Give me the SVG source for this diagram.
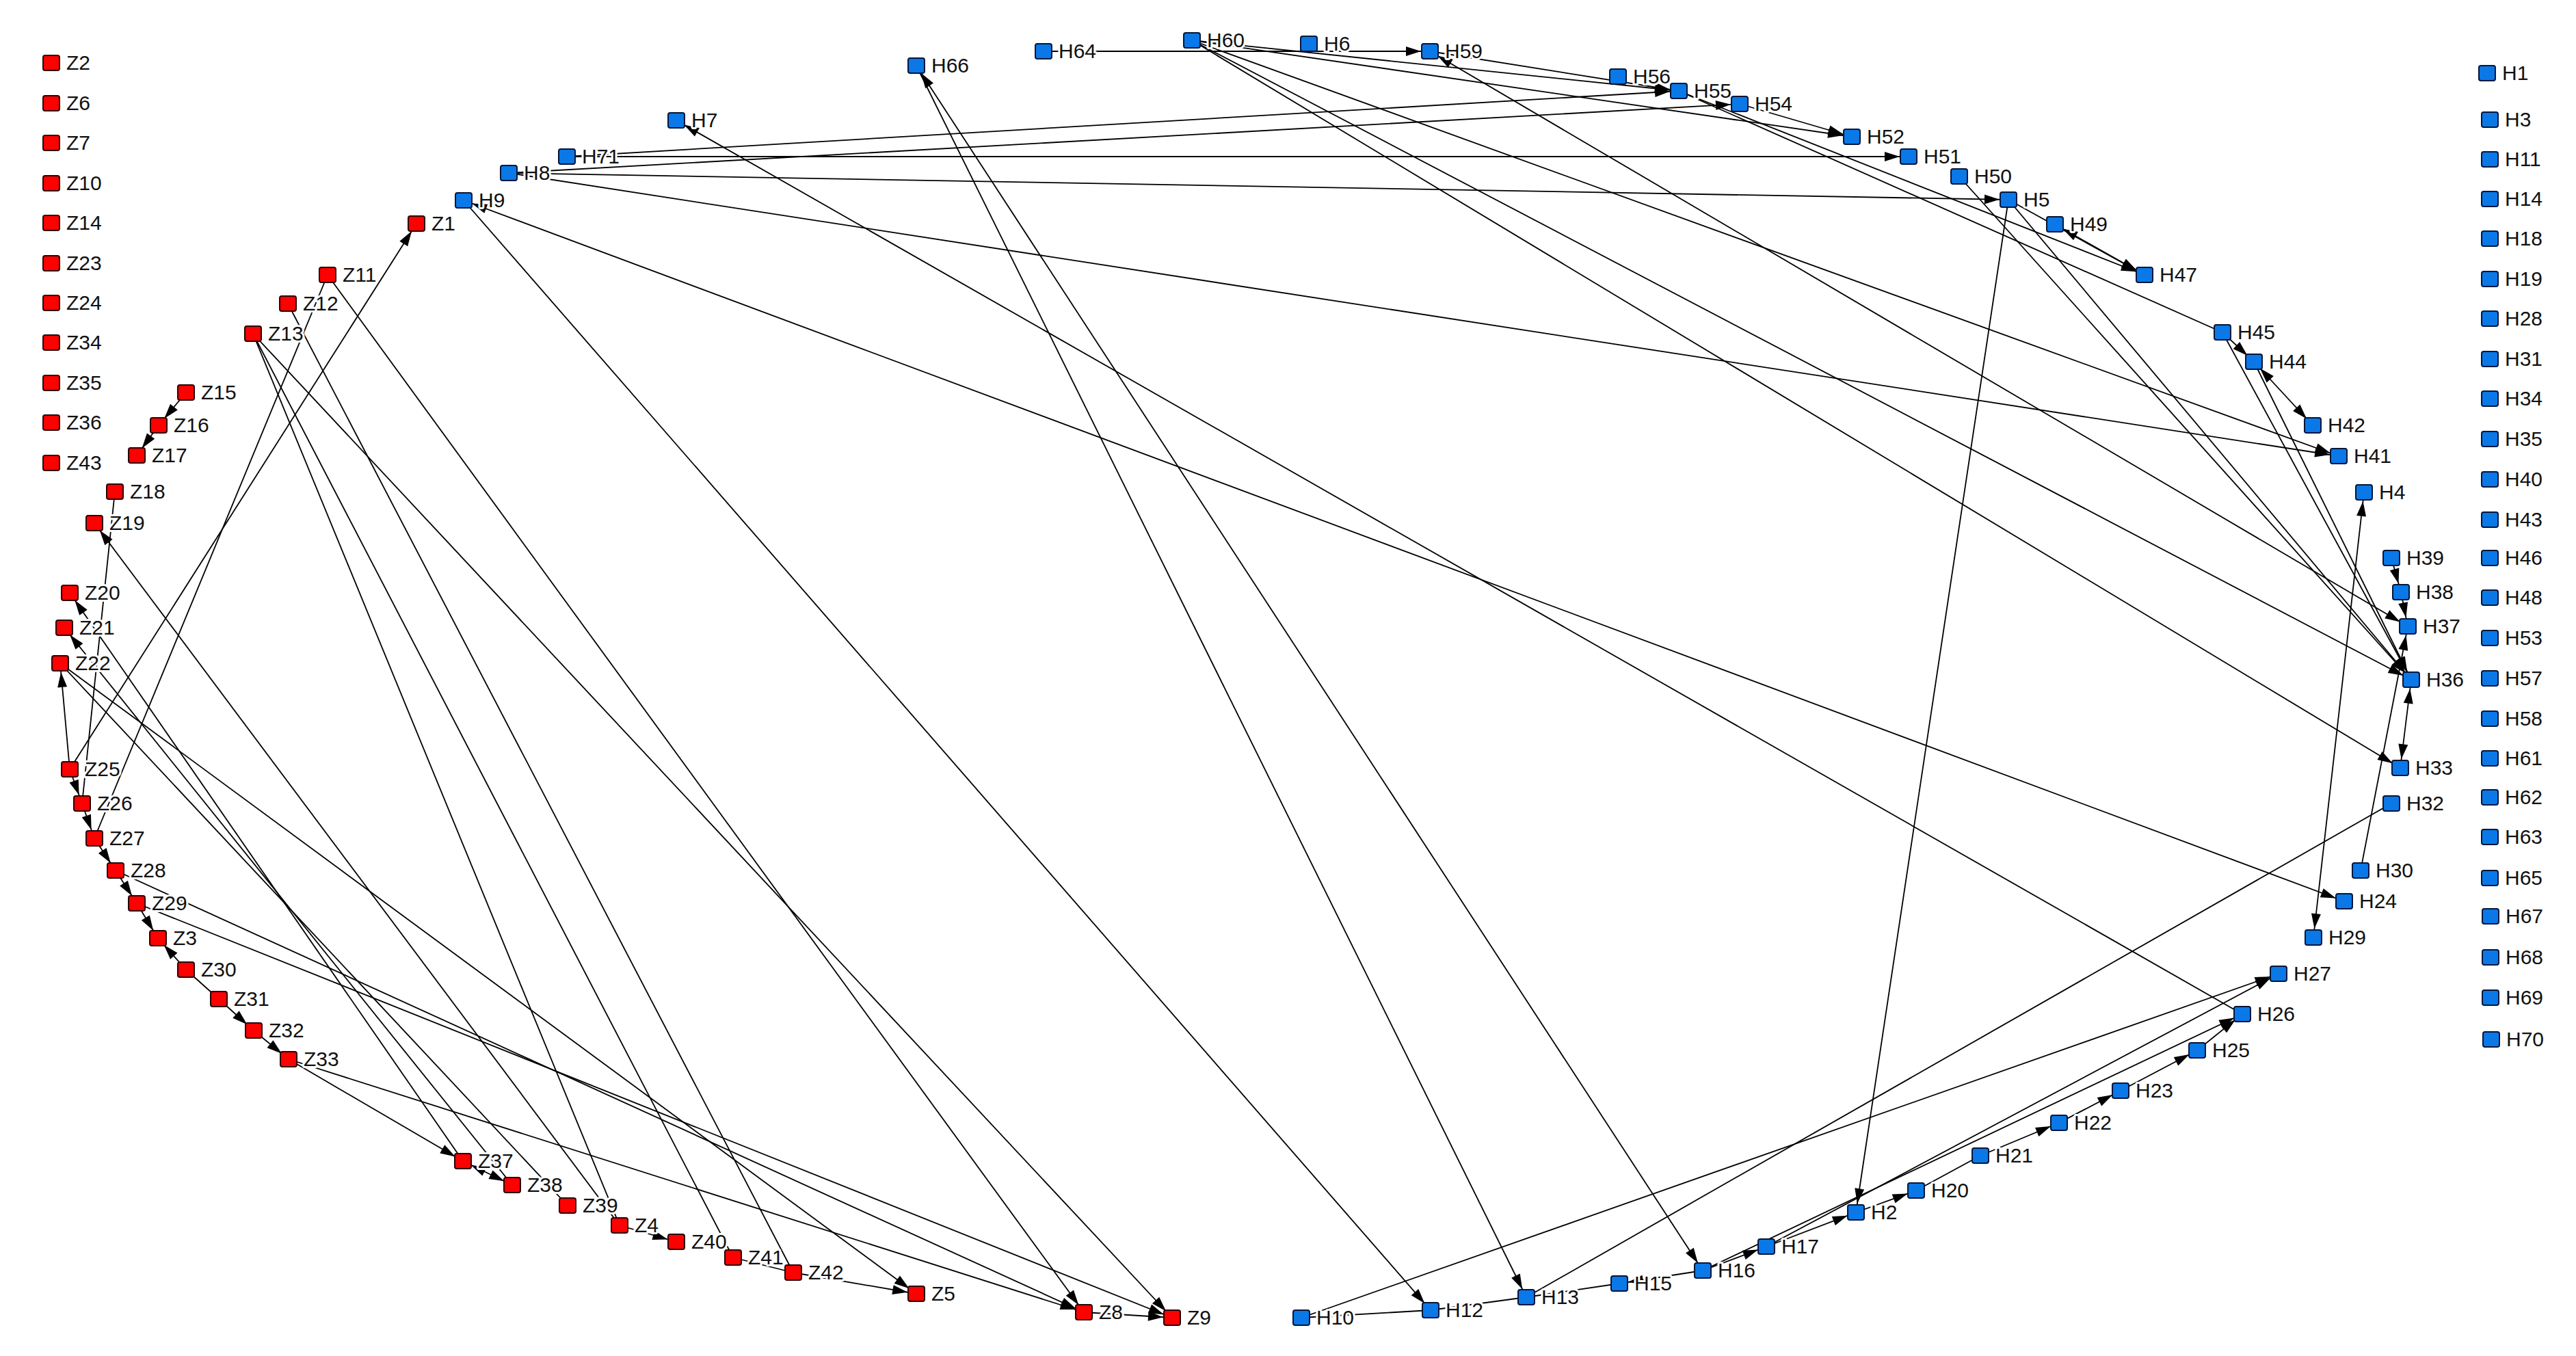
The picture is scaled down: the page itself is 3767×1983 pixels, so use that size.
<svg xmlns="http://www.w3.org/2000/svg" width="3767" height="1983" viewBox="0 0 3767 1983">
<style>
.e{stroke:#000;stroke-width:1.8;fill:none}
.z rect{fill:#ff0000;stroke:#2a0000;stroke-width:2}
.h rect{fill:#0a78e6;stroke:#04163a;stroke-width:2}
text{font-family:"Liberation Sans",Arial,sans-serif;font-size:30px;fill:#111;paint-order:stroke;stroke:#fff;stroke-width:6px;stroke-linejoin:round}
</style>
<defs>
<marker id="a" viewBox="0 0 40 16" markerWidth="40" markerHeight="16" refX="38" refY="8" orient="auto-start-reverse" markerUnits="userSpaceOnUse"><path d="M3,1 L25,8 L3,15 z" fill="#000"/></marker>
</defs>
<rect width="3767" height="1983" fill="#fff"/>
<g id="edges">
<line class="e" x1="1526" y1="75" x2="2091" y2="75" marker-end="url(#a)"/>
<line class="e" x1="1743" y1="59" x2="2455" y2="133" marker-end="url(#a)"/>
<line class="e" x1="2091" y1="75" x2="2455" y2="133" marker-end="url(#a)"/>
<line class="e" x1="1743" y1="59" x2="2708" y2="200" marker-end="url(#a)"/>
<line class="e" x1="2544" y1="152" x2="2708" y2="200" marker-end="url(#a)"/>
<line class="e" x1="829" y1="229" x2="2455" y2="133" marker-end="url(#a)"/>
<line class="e" x1="744" y1="253" x2="2544" y2="152" marker-end="url(#a)"/>
<line class="e" x1="829" y1="229" x2="2791" y2="229" marker-end="url(#a)"/>
<line class="e" x1="744" y1="253" x2="2937" y2="292" marker-end="url(#a)"/>
<line class="e" x1="744" y1="253" x2="3420" y2="667" marker-end="url(#a)"/>
<line class="e" x1="1743" y1="59" x2="3420" y2="667" marker-end="url(#a)"/>
<line class="e" x1="1743" y1="59" x2="3526" y2="994" marker-end="url(#a)"/>
<line class="e" x1="1743" y1="59" x2="3510" y2="1123" marker-end="url(#a)"/>
<line class="e" x1="2091" y1="75" x2="3521" y2="916" marker-start="url(#a)" marker-end="url(#a)"/>
<line class="e" x1="2455" y1="133" x2="3250" y2="486"/>
<line class="e" x1="2455" y1="133" x2="3136" y2="402" marker-end="url(#a)"/>
<line class="e" x1="2937" y1="292" x2="3136" y2="402" marker-end="url(#a)"/>
<line class="e" x1="3136" y1="402" x2="3005" y2="328" marker-start="url(#a)" marker-end="url(#a)"/>
<line class="e" x1="3250" y1="486" x2="3296" y2="529" marker-end="url(#a)"/>
<line class="e" x1="3296" y1="529" x2="3382" y2="622" marker-start="url(#a)" marker-end="url(#a)"/>
<line class="e" x1="3250" y1="486" x2="3526" y2="994" marker-end="url(#a)"/>
<line class="e" x1="3296" y1="529" x2="3526" y2="994" marker-end="url(#a)"/>
<line class="e" x1="2937" y1="292" x2="3526" y2="994" marker-end="url(#a)"/>
<line class="e" x1="2865" y1="258" x2="3526" y2="994" marker-end="url(#a)"/>
<line class="e" x1="2937" y1="292" x2="2714" y2="1773" marker-end="url(#a)"/>
<line class="e" x1="3457" y1="720" x2="3383" y2="1371" marker-start="url(#a)" marker-end="url(#a)"/>
<line class="e" x1="3526" y1="994" x2="3510" y2="1123" marker-start="url(#a)" marker-end="url(#a)"/>
<line class="e" x1="3497" y1="816" x2="3511" y2="866" marker-end="url(#a)"/>
<line class="e" x1="3511" y1="866" x2="3521" y2="916" marker-end="url(#a)"/>
<line class="e" x1="3452" y1="1273" x2="3521" y2="916" marker-end="url(#a)"/>
<line class="e" x1="2232" y1="1897" x2="3497" y2="1175"/>
<line class="e" x1="1903" y1="1927" x2="3332" y2="1424" marker-end="url(#a)"/>
<line class="e" x1="2583" y1="1823" x2="3332" y2="1424" marker-end="url(#a)"/>
<line class="e" x1="2490" y1="1858" x2="3279" y2="1483" marker-end="url(#a)"/>
<line class="e" x1="3279" y1="1483" x2="989" y2="176" marker-end="url(#a)"/>
<line class="e" x1="678" y1="293" x2="2092" y2="1916" marker-end="url(#a)"/>
<line class="e" x1="1340" y1="96" x2="2232" y2="1897" marker-end="url(#a)"/>
<line class="e" x1="2490" y1="1858" x2="1340" y2="96" marker-start="url(#a)" marker-end="url(#a)"/>
<line class="e" x1="678" y1="293" x2="3428" y2="1318" marker-start="url(#a)" marker-end="url(#a)"/>
<line class="e" x1="1903" y1="1927" x2="2092" y2="1916"/>
<line class="e" x1="2092" y1="1916" x2="2232" y2="1897"/>
<line class="e" x1="2232" y1="1897" x2="2368" y2="1877"/>
<line class="e" x1="2490" y1="1858" x2="2368" y2="1877" marker-end="url(#a)"/>
<line class="e" x1="2490" y1="1858" x2="2583" y2="1823" marker-end="url(#a)"/>
<line class="e" x1="2583" y1="1823" x2="2714" y2="1773" marker-end="url(#a)"/>
<line class="e" x1="2714" y1="1773" x2="2802" y2="1741" marker-end="url(#a)"/>
<line class="e" x1="2802" y1="1741" x2="2896" y2="1690"/>
<line class="e" x1="2896" y1="1690" x2="3011" y2="1642" marker-end="url(#a)"/>
<line class="e" x1="3011" y1="1642" x2="3101" y2="1595" marker-end="url(#a)"/>
<line class="e" x1="3101" y1="1595" x2="3213" y2="1536" marker-end="url(#a)"/>
<line class="e" x1="3213" y1="1536" x2="3279" y2="1483" marker-end="url(#a)"/>
<line class="e" x1="272" y1="574" x2="232" y2="622" marker-end="url(#a)"/>
<line class="e" x1="232" y1="622" x2="200" y2="666" marker-end="url(#a)"/>
<line class="e" x1="168" y1="719" x2="120" y2="1175"/>
<line class="e" x1="906" y1="1792" x2="138" y2="765" marker-end="url(#a)"/>
<line class="e" x1="102" y1="1125" x2="609" y2="327" marker-end="url(#a)"/>
<line class="e" x1="138" y1="1226" x2="479" y2="402"/>
<line class="e" x1="102" y1="1125" x2="88" y2="970" marker-end="url(#a)"/>
<line class="e" x1="102" y1="1125" x2="120" y2="1175" marker-end="url(#a)"/>
<line class="e" x1="120" y1="1175" x2="138" y2="1226" marker-end="url(#a)"/>
<line class="e" x1="138" y1="1226" x2="169" y2="1273" marker-end="url(#a)"/>
<line class="e" x1="169" y1="1273" x2="200" y2="1321" marker-end="url(#a)"/>
<line class="e" x1="200" y1="1321" x2="231" y2="1372" marker-end="url(#a)"/>
<line class="e" x1="272" y1="1418" x2="231" y2="1372" marker-end="url(#a)"/>
<line class="e" x1="272" y1="1418" x2="320" y2="1461"/>
<line class="e" x1="320" y1="1461" x2="371" y2="1507" marker-end="url(#a)"/>
<line class="e" x1="371" y1="1507" x2="422" y2="1549" marker-end="url(#a)"/>
<line class="e" x1="422" y1="1549" x2="677" y2="1698" marker-end="url(#a)"/>
<line class="e" x1="677" y1="1698" x2="749" y2="1733" marker-start="url(#a)" marker-end="url(#a)"/>
<line class="e" x1="906" y1="1792" x2="989" y2="1816" marker-end="url(#a)"/>
<line class="e" x1="1072" y1="1839" x2="1160" y2="1861"/>
<line class="e" x1="1160" y1="1861" x2="1340" y2="1892" marker-end="url(#a)"/>
<line class="e" x1="1585" y1="1919" x2="1714" y2="1927" marker-end="url(#a)"/>
<line class="e" x1="370" y1="488" x2="1714" y2="1927" marker-end="url(#a)"/>
<line class="e" x1="370" y1="488" x2="906" y2="1792"/>
<line class="e" x1="370" y1="488" x2="1072" y2="1839"/>
<line class="e" x1="421" y1="444" x2="1160" y2="1861"/>
<line class="e" x1="479" y1="402" x2="1585" y2="1919" marker-end="url(#a)"/>
<line class="e" x1="422" y1="1549" x2="1585" y2="1919" marker-end="url(#a)"/>
<line class="e" x1="169" y1="1273" x2="1585" y2="1919" marker-end="url(#a)"/>
<line class="e" x1="200" y1="1321" x2="1714" y2="1927" marker-end="url(#a)"/>
<line class="e" x1="88" y1="970" x2="1340" y2="1892" marker-end="url(#a)"/>
<line class="e" x1="677" y1="1698" x2="102" y2="867" marker-end="url(#a)"/>
<line class="e" x1="749" y1="1733" x2="94" y2="918" marker-end="url(#a)"/>
<line class="e" x1="88" y1="970" x2="830" y2="1763"/>
</g>
<g id="n-Z2" class="z"><rect x="63" y="81" width="24" height="22" rx="3"/><text x="97" y="102">Z2</text></g>
<g id="n-Z6" class="z"><rect x="63" y="140" width="24" height="22" rx="3"/><text x="97" y="161">Z6</text></g>
<g id="n-Z7" class="z"><rect x="63" y="198" width="24" height="22" rx="3"/><text x="97" y="219">Z7</text></g>
<g id="n-Z10" class="z"><rect x="63" y="257" width="24" height="22" rx="3"/><text x="97" y="278">Z10</text></g>
<g id="n-Z14" class="z"><rect x="63" y="315" width="24" height="22" rx="3"/><text x="97" y="336">Z14</text></g>
<g id="n-Z23" class="z"><rect x="63" y="374" width="24" height="22" rx="3"/><text x="97" y="395">Z23</text></g>
<g id="n-Z24" class="z"><rect x="63" y="432" width="24" height="22" rx="3"/><text x="97" y="453">Z24</text></g>
<g id="n-Z34" class="z"><rect x="63" y="490" width="24" height="22" rx="3"/><text x="97" y="511">Z34</text></g>
<g id="n-Z35" class="z"><rect x="63" y="549" width="24" height="22" rx="3"/><text x="97" y="570">Z35</text></g>
<g id="n-Z36" class="z"><rect x="63" y="607" width="24" height="22" rx="3"/><text x="97" y="628">Z36</text></g>
<g id="n-Z43" class="z"><rect x="63" y="666" width="24" height="22" rx="3"/><text x="97" y="687">Z43</text></g>
<g id="n-Z1" class="z"><rect x="597" y="316" width="24" height="22" rx="3"/><text x="631" y="337">Z1</text></g>
<g id="n-Z11" class="z"><rect x="467" y="391" width="24" height="22" rx="3"/><text x="501" y="412">Z11</text></g>
<g id="n-Z12" class="z"><rect x="409" y="433" width="24" height="22" rx="3"/><text x="443" y="454">Z12</text></g>
<g id="n-Z13" class="z"><rect x="358" y="477" width="24" height="22" rx="3"/><text x="392" y="498">Z13</text></g>
<g id="n-Z15" class="z"><rect x="260" y="563" width="24" height="22" rx="3"/><text x="294" y="584">Z15</text></g>
<g id="n-Z16" class="z"><rect x="220" y="611" width="24" height="22" rx="3"/><text x="254" y="632">Z16</text></g>
<g id="n-Z17" class="z"><rect x="188" y="655" width="24" height="22" rx="3"/><text x="222" y="676">Z17</text></g>
<g id="n-Z18" class="z"><rect x="156" y="708" width="24" height="22" rx="3"/><text x="190" y="729">Z18</text></g>
<g id="n-Z19" class="z"><rect x="126" y="754" width="24" height="22" rx="3"/><text x="160" y="775">Z19</text></g>
<g id="n-Z20" class="z"><rect x="90" y="856" width="24" height="22" rx="3"/><text x="124" y="877">Z20</text></g>
<g id="n-Z21" class="z"><rect x="82" y="907" width="24" height="22" rx="3"/><text x="116" y="928">Z21</text></g>
<g id="n-Z22" class="z"><rect x="76" y="959" width="24" height="22" rx="3"/><text x="110" y="980">Z22</text></g>
<g id="n-Z25" class="z"><rect x="90" y="1114" width="24" height="22" rx="3"/><text x="124" y="1135">Z25</text></g>
<g id="n-Z26" class="z"><rect x="108" y="1164" width="24" height="22" rx="3"/><text x="142" y="1185">Z26</text></g>
<g id="n-Z27" class="z"><rect x="126" y="1215" width="24" height="22" rx="3"/><text x="160" y="1236">Z27</text></g>
<g id="n-Z28" class="z"><rect x="157" y="1262" width="24" height="22" rx="3"/><text x="191" y="1283">Z28</text></g>
<g id="n-Z29" class="z"><rect x="188" y="1310" width="24" height="22" rx="3"/><text x="222" y="1331">Z29</text></g>
<g id="n-Z3" class="z"><rect x="219" y="1361" width="24" height="22" rx="3"/><text x="253" y="1382">Z3</text></g>
<g id="n-Z30" class="z"><rect x="260" y="1407" width="24" height="22" rx="3"/><text x="294" y="1428">Z30</text></g>
<g id="n-Z31" class="z"><rect x="308" y="1450" width="24" height="22" rx="3"/><text x="342" y="1471">Z31</text></g>
<g id="n-Z32" class="z"><rect x="359" y="1496" width="24" height="22" rx="3"/><text x="393" y="1517">Z32</text></g>
<g id="n-Z33" class="z"><rect x="410" y="1538" width="24" height="22" rx="3"/><text x="444" y="1559">Z33</text></g>
<g id="n-Z37" class="z"><rect x="665" y="1687" width="24" height="22" rx="3"/><text x="699" y="1708">Z37</text></g>
<g id="n-Z38" class="z"><rect x="737" y="1722" width="24" height="22" rx="3"/><text x="771" y="1743">Z38</text></g>
<g id="n-Z39" class="z"><rect x="818" y="1752" width="24" height="22" rx="3"/><text x="852" y="1773">Z39</text></g>
<g id="n-Z4" class="z"><rect x="894" y="1781" width="24" height="22" rx="3"/><text x="928" y="1802">Z4</text></g>
<g id="n-Z40" class="z"><rect x="977" y="1805" width="24" height="22" rx="3"/><text x="1011" y="1826">Z40</text></g>
<g id="n-Z41" class="z"><rect x="1060" y="1828" width="24" height="22" rx="3"/><text x="1094" y="1849">Z41</text></g>
<g id="n-Z42" class="z"><rect x="1148" y="1850" width="24" height="22" rx="3"/><text x="1182" y="1871">Z42</text></g>
<g id="n-Z5" class="z"><rect x="1328" y="1881" width="24" height="22" rx="3"/><text x="1362" y="1902">Z5</text></g>
<g id="n-Z8" class="z"><rect x="1573" y="1908" width="24" height="22" rx="3"/><text x="1607" y="1929">Z8</text></g>
<g id="n-Z9" class="z"><rect x="1702" y="1916" width="24" height="22" rx="3"/><text x="1736" y="1937">Z9</text></g>
<g id="n-H66" class="h"><rect x="1328" y="85" width="24" height="22" rx="3"/><text x="1362" y="106">H66</text></g>
<g id="n-H7" class="h"><rect x="977" y="165" width="24" height="22" rx="3"/><text x="1011" y="186">H7</text></g>
<g id="n-H71" class="h"><rect x="817" y="218" width="24" height="22" rx="3"/><text x="851" y="239">H71</text></g>
<g id="n-H8" class="h"><rect x="732" y="242" width="24" height="22" rx="3"/><text x="766" y="263">H8</text></g>
<g id="n-H9" class="h"><rect x="666" y="282" width="24" height="22" rx="3"/><text x="700" y="303">H9</text></g>
<g id="n-H64" class="h"><rect x="1514" y="64" width="24" height="22" rx="3"/><text x="1548" y="85">H64</text></g>
<g id="n-H60" class="h"><rect x="1731" y="48" width="24" height="22" rx="3"/><text x="1765" y="69">H60</text></g>
<g id="n-H6" class="h"><rect x="1902" y="53" width="24" height="22" rx="3"/><text x="1936" y="74">H6</text></g>
<g id="n-H59" class="h"><rect x="2079" y="64" width="24" height="22" rx="3"/><text x="2113" y="85">H59</text></g>
<g id="n-H56" class="h"><rect x="2354" y="101" width="24" height="22" rx="3"/><text x="2388" y="122">H56</text></g>
<g id="n-H55" class="h"><rect x="2443" y="122" width="24" height="22" rx="3"/><text x="2477" y="143">H55</text></g>
<g id="n-H54" class="h"><rect x="2532" y="141" width="24" height="22" rx="3"/><text x="2566" y="162">H54</text></g>
<g id="n-H52" class="h"><rect x="2696" y="189" width="24" height="22" rx="3"/><text x="2730" y="210">H52</text></g>
<g id="n-H51" class="h"><rect x="2779" y="218" width="24" height="22" rx="3"/><text x="2813" y="239">H51</text></g>
<g id="n-H50" class="h"><rect x="2853" y="247" width="24" height="22" rx="3"/><text x="2887" y="268">H50</text></g>
<g id="n-H5" class="h"><rect x="2925" y="281" width="24" height="22" rx="3"/><text x="2959" y="302">H5</text></g>
<g id="n-H49" class="h"><rect x="2993" y="317" width="24" height="22" rx="3"/><text x="3027" y="338">H49</text></g>
<g id="n-H47" class="h"><rect x="3124" y="391" width="24" height="22" rx="3"/><text x="3158" y="412">H47</text></g>
<g id="n-H45" class="h"><rect x="3238" y="475" width="24" height="22" rx="3"/><text x="3272" y="496">H45</text></g>
<g id="n-H44" class="h"><rect x="3284" y="518" width="24" height="22" rx="3"/><text x="3318" y="539">H44</text></g>
<g id="n-H42" class="h"><rect x="3370" y="611" width="24" height="22" rx="3"/><text x="3404" y="632">H42</text></g>
<g id="n-H41" class="h"><rect x="3408" y="656" width="24" height="22" rx="3"/><text x="3442" y="677">H41</text></g>
<g id="n-H4" class="h"><rect x="3445" y="709" width="24" height="22" rx="3"/><text x="3479" y="730">H4</text></g>
<g id="n-H39" class="h"><rect x="3485" y="805" width="24" height="22" rx="3"/><text x="3519" y="826">H39</text></g>
<g id="n-H38" class="h"><rect x="3499" y="855" width="24" height="22" rx="3"/><text x="3533" y="876">H38</text></g>
<g id="n-H37" class="h"><rect x="3509" y="905" width="24" height="22" rx="3"/><text x="3543" y="926">H37</text></g>
<g id="n-H36" class="h"><rect x="3514" y="983" width="24" height="22" rx="3"/><text x="3548" y="1004">H36</text></g>
<g id="n-H33" class="h"><rect x="3498" y="1112" width="24" height="22" rx="3"/><text x="3532" y="1133">H33</text></g>
<g id="n-H32" class="h"><rect x="3485" y="1164" width="24" height="22" rx="3"/><text x="3519" y="1185">H32</text></g>
<g id="n-H30" class="h"><rect x="3440" y="1262" width="24" height="22" rx="3"/><text x="3474" y="1283">H30</text></g>
<g id="n-H24" class="h"><rect x="3416" y="1307" width="24" height="22" rx="3"/><text x="3450" y="1328">H24</text></g>
<g id="n-H29" class="h"><rect x="3371" y="1360" width="24" height="22" rx="3"/><text x="3405" y="1381">H29</text></g>
<g id="n-H27" class="h"><rect x="3320" y="1413" width="24" height="22" rx="3"/><text x="3354" y="1434">H27</text></g>
<g id="n-H26" class="h"><rect x="3267" y="1472" width="24" height="22" rx="3"/><text x="3301" y="1493">H26</text></g>
<g id="n-H25" class="h"><rect x="3201" y="1525" width="24" height="22" rx="3"/><text x="3235" y="1546">H25</text></g>
<g id="n-H23" class="h"><rect x="3089" y="1584" width="24" height="22" rx="3"/><text x="3123" y="1605">H23</text></g>
<g id="n-H22" class="h"><rect x="2999" y="1631" width="24" height="22" rx="3"/><text x="3033" y="1652">H22</text></g>
<g id="n-H21" class="h"><rect x="2884" y="1679" width="24" height="22" rx="3"/><text x="2918" y="1700">H21</text></g>
<g id="n-H20" class="h"><rect x="2790" y="1730" width="24" height="22" rx="3"/><text x="2824" y="1751">H20</text></g>
<g id="n-H2" class="h"><rect x="2702" y="1762" width="24" height="22" rx="3"/><text x="2736" y="1783">H2</text></g>
<g id="n-H17" class="h"><rect x="2571" y="1812" width="24" height="22" rx="3"/><text x="2605" y="1833">H17</text></g>
<g id="n-H16" class="h"><rect x="2478" y="1847" width="24" height="22" rx="3"/><text x="2512" y="1868">H16</text></g>
<g id="n-H15" class="h"><rect x="2356" y="1866" width="24" height="22" rx="3"/><text x="2390" y="1887">H15</text></g>
<g id="n-H13" class="h"><rect x="2220" y="1886" width="24" height="22" rx="3"/><text x="2254" y="1907">H13</text></g>
<g id="n-H12" class="h"><rect x="2080" y="1905" width="24" height="22" rx="3"/><text x="2114" y="1926">H12</text></g>
<g id="n-H10" class="h"><rect x="1891" y="1916" width="24" height="22" rx="3"/><text x="1925" y="1937">H10</text></g>
<g id="n-H1" class="h"><rect x="3625" y="96" width="24" height="22" rx="3"/><text x="3659" y="117">H1</text></g>
<g id="n-H3" class="h"><rect x="3629" y="164" width="24" height="22" rx="3"/><text x="3663" y="185">H3</text></g>
<g id="n-H11" class="h"><rect x="3629" y="222" width="24" height="22" rx="3"/><text x="3663" y="243">H11</text></g>
<g id="n-H14" class="h"><rect x="3629" y="280" width="24" height="22" rx="3"/><text x="3663" y="301">H14</text></g>
<g id="n-H18" class="h"><rect x="3629" y="338" width="24" height="22" rx="3"/><text x="3663" y="359">H18</text></g>
<g id="n-H19" class="h"><rect x="3629" y="397" width="24" height="22" rx="3"/><text x="3663" y="418">H19</text></g>
<g id="n-H28" class="h"><rect x="3629" y="455" width="24" height="22" rx="3"/><text x="3663" y="476">H28</text></g>
<g id="n-H31" class="h"><rect x="3629" y="514" width="24" height="22" rx="3"/><text x="3663" y="535">H31</text></g>
<g id="n-H34" class="h"><rect x="3629" y="572" width="24" height="22" rx="3"/><text x="3663" y="593">H34</text></g>
<g id="n-H35" class="h"><rect x="3629" y="631" width="24" height="22" rx="3"/><text x="3663" y="652">H35</text></g>
<g id="n-H40" class="h"><rect x="3629" y="690" width="24" height="22" rx="3"/><text x="3663" y="711">H40</text></g>
<g id="n-H43" class="h"><rect x="3629" y="749" width="24" height="22" rx="3"/><text x="3663" y="770">H43</text></g>
<g id="n-H46" class="h"><rect x="3629" y="805" width="24" height="22" rx="3"/><text x="3663" y="826">H46</text></g>
<g id="n-H48" class="h"><rect x="3629" y="863" width="24" height="22" rx="3"/><text x="3663" y="884">H48</text></g>
<g id="n-H53" class="h"><rect x="3629" y="922" width="24" height="22" rx="3"/><text x="3663" y="943">H53</text></g>
<g id="n-H57" class="h"><rect x="3629" y="981" width="24" height="22" rx="3"/><text x="3663" y="1002">H57</text></g>
<g id="n-H58" class="h"><rect x="3629" y="1040" width="24" height="22" rx="3"/><text x="3663" y="1061">H58</text></g>
<g id="n-H61" class="h"><rect x="3629" y="1098" width="24" height="22" rx="3"/><text x="3663" y="1119">H61</text></g>
<g id="n-H62" class="h"><rect x="3629" y="1155" width="24" height="22" rx="3"/><text x="3663" y="1176">H62</text></g>
<g id="n-H63" class="h"><rect x="3629" y="1213" width="24" height="22" rx="3"/><text x="3663" y="1234">H63</text></g>
<g id="n-H65" class="h"><rect x="3629" y="1273" width="24" height="22" rx="3"/><text x="3663" y="1294">H65</text></g>
<g id="n-H67" class="h"><rect x="3630" y="1329" width="24" height="22" rx="3"/><text x="3664" y="1350">H67</text></g>
<g id="n-H68" class="h"><rect x="3630" y="1389" width="24" height="22" rx="3"/><text x="3664" y="1410">H68</text></g>
<g id="n-H69" class="h"><rect x="3630" y="1448" width="24" height="22" rx="3"/><text x="3664" y="1469">H69</text></g>
<g id="n-H70" class="h"><rect x="3631" y="1509" width="24" height="22" rx="3"/><text x="3665" y="1530">H70</text></g>
</svg>
